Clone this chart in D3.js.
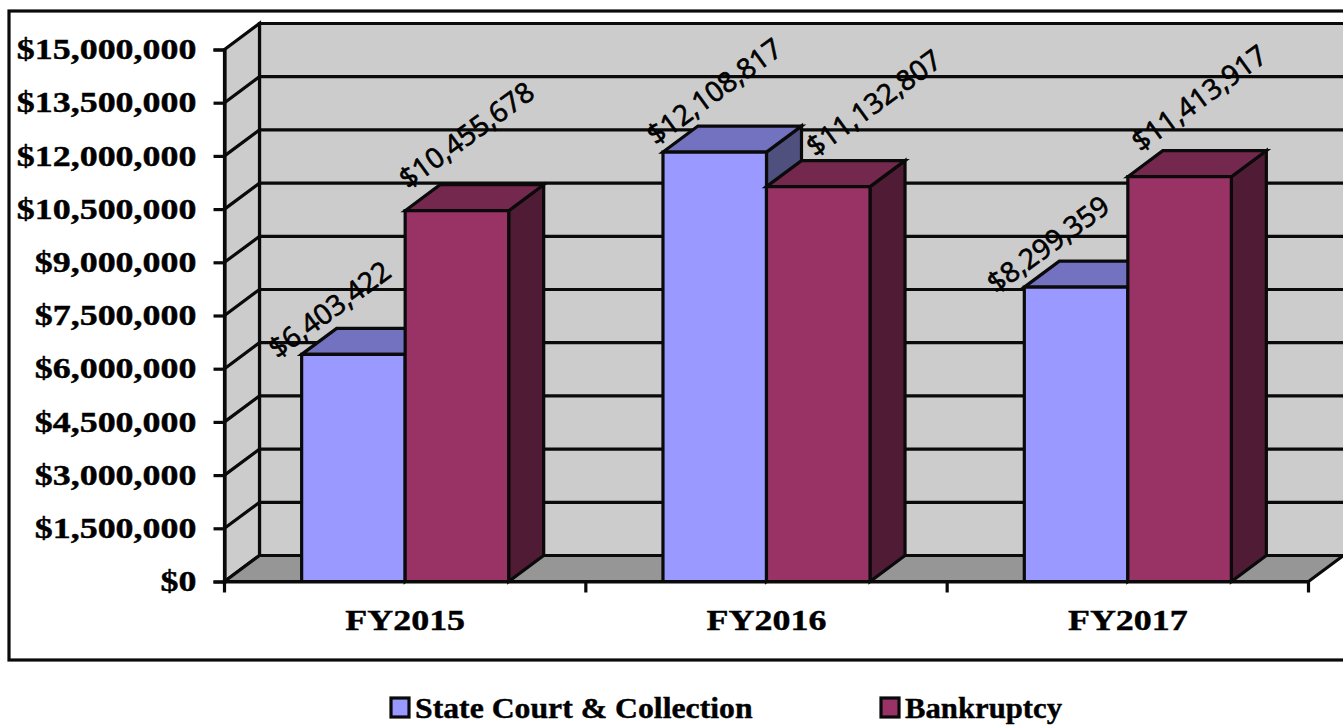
<!DOCTYPE html>
<html>
<head>
<meta charset="utf-8">
<script src="https://cdn.jsdelivr.net/npm/d3@7"></script>
<style>
  html, body { margin: 0; padding: 0; background: #fff; overflow: hidden; }
  svg { display: block; }
  .serif { font-family: "Liberation Serif", serif; font-weight: bold; fill: #000; stroke: #000; stroke-width: 0.4px; }
</style>
</head>
<body>
<svg width="1343" height="725"></svg>
<script>
const categories = ["FY2015", "FY2016", "FY2017"];
const seriesNames = ["State Court & Collection", "Bankruptcy"];
const stateCourt = [6403422, 12108817, 8299359];
const bankruptcy = [10455678, 11132807, 11413917];
const yTicks = [0, 1500000, 3000000, 4500000, 6000000, 7500000, 9000000, 10500000, 12000000, 13500000, 15000000];

const svg = d3.select("svg");
const dx = 35, dy = -26; // depth of the fake 3d
const plotLeft = 224.5, plotRight = 1308.5, plotBottom = 581.5, plotTop = 49.5;
const ink = "#0a0a0a";
const lineW = 3.2;

const x = d3.scaleBand().domain(categories).range([plotLeft, plotRight]).paddingInner(0.427).paddingOuter(0.2135);
const xTick = d3.scaleBand().domain(categories).range([plotLeft, plotRight]);
const xSeries = d3.scaleBand().domain(seriesNames).range([0, x.bandwidth()]);
const y = d3.scaleLinear().domain([0, 15000000]).range([plotBottom, plotTop]);

const colors = [
  { front: "#9999ff", top: "#7272c0", side: "#50507f" },
  { front: "#993366", top: "#75284e", side: "#4f1b35" }
];

const poly = (pts, fill) => svg.append("polygon")
  .attr("points", pts.map(p => p.join(",")).join(" "))
  .attr("fill", fill)
  .attr("stroke", ink)
  .attr("stroke-width", lineW)
  .attr("stroke-linejoin", "miter");

// chart frame
svg.append("rect").attr("x", 9).attr("y", 11).attr("width", 1340).attr("height", 649)
  .attr("fill", "#fff").attr("stroke", ink).attr("stroke-width", lineW);

// walls and floor
const wallRight = 1345;
poly([[plotLeft + dx, plotTop + dy], [wallRight, plotTop + dy], [wallRight, plotBottom + dy], [plotLeft + dx, plotBottom + dy]], "#cccccc");
poly([[plotLeft, plotTop], [plotLeft + dx, plotTop + dy], [plotLeft + dx, plotBottom + dy], [plotLeft, plotBottom]], "#cccccc");
poly([[plotLeft, plotBottom], [plotLeft + dx, plotBottom + dy], [plotRight + dx, plotBottom + dy], [plotRight, plotBottom]], "#969696");

// gridlines
const grid = svg.append("g").attr("stroke", ink).attr("stroke-width", lineW).attr("fill", "none");
grid.selectAll("path").data(yTicks.slice(1, -1)).enter().append("path")
  .attr("d", d => `M${plotLeft},${y(d)}L${plotLeft + dx},${y(d) + dy}L${wallRight},${y(d) + dy}`);

// bars, one group per category, back to front
const series = [stateCourt, bankruptcy];
categories.forEach((cat, c) => {
  series.forEach((vals, s) => {
    const x0 = x(cat) + xSeries(seriesNames[s]);
    const x1 = x0 + xSeries.bandwidth();
    const yv = y(vals[c]);
    poly([[x1, yv], [x1 + dx, yv + dy], [x1 + dx, plotBottom + dy], [x1, plotBottom]], colors[s].side);
    poly([[x0, yv], [x0 + dx, yv + dy], [x1 + dx, yv + dy], [x1, yv]], colors[s].top);
    poly([[x0, yv], [x1, yv], [x1, plotBottom], [x0, plotBottom]], colors[s].front);
  });
});

// axes
const yAxis = svg.append("g")
  .attr("transform", `translate(${plotLeft},0)`)
  .call(d3.axisLeft(y).tickValues(yTicks).tickFormat(d3.format("$,")).tickSize(11).tickPadding(0));
yAxis.select(".domain").attr("stroke", ink).attr("stroke-width", lineW);
yAxis.selectAll("line").attr("stroke", ink).attr("stroke-width", lineW);
// the labels are a wide Bodoni in the original, so stretch the serif sideways
yAxis.selectAll("text").attr("class", "serif").style("font-size", "29px")
  .attr("x", 0).attr("dy", "0.32em").attr("transform", "translate(-28,0) scale(1.24,1)");

const xAxis = svg.append("g")
  .attr("transform", `translate(0,${plotBottom})`)
  .call(d3.axisBottom(xTick).tickSize(0).tickPadding(28));
xAxis.select(".domain").attr("stroke", ink).attr("stroke-width", lineW);
xAxis.selectAll("text").attr("class", "serif").style("font-size", "29px").attr("transform", "scale(1.24,1)");
svg.append("g").attr("stroke", ink).attr("stroke-width", lineW)
  .selectAll("line").data(categories.concat("end")).enter().append("line")
  .attr("x1", d => d === "end" ? plotRight : xTick(d)).attr("x2", d => d === "end" ? plotRight : xTick(d))
  .attr("y1", plotBottom).attr("y2", plotBottom + 11);

// data labels, hand placed in the original so each has its own nudge
const nudges = [[[-24, 5], [3, -21]], [[-7, -6], [49, -29]], [[-28, 7], [13, -24]]];
categories.forEach((cat, c) => {
  series.forEach((vals, s) => {
    const px = x(cat) + xSeries(seriesNames[s]) + nudges[c][s][0];
    const py = y(vals[c]) + nudges[c][s][1];
    svg.append("text")
      .attr("transform", `translate(${px},${py}) rotate(-36)`)
      .attr("font-family", "'Open Sans', sans-serif")
      .attr("font-size", 28)
      .attr("fill", "#000")
      .attr("stroke", "#000")
      .attr("stroke-width", 0.7)
      .text(d3.format("$,")(vals[c]));
  });
});

// legend
const legendX = [390, 880];
const legendStretch = [1.095, 1.06];
const legend = svg.append("g").selectAll("g").data(seriesNames).enter().append("g")
  .attr("transform", (d, i) => `translate(${legendX[i]},698)`);
legend.append("rect").attr("x", 1).attr("width", 18).attr("height", 19)
  .attr("fill", (d, i) => colors[i].front).attr("stroke", ink).attr("stroke-width", lineW);
legend.append("text").attr("class", "serif")
  .attr("transform", (d, i) => `translate(25,20) scale(${legendStretch[i]},1)`)
  .style("font-size", "29px").text(d => d);
</script>
</body>
</html>
